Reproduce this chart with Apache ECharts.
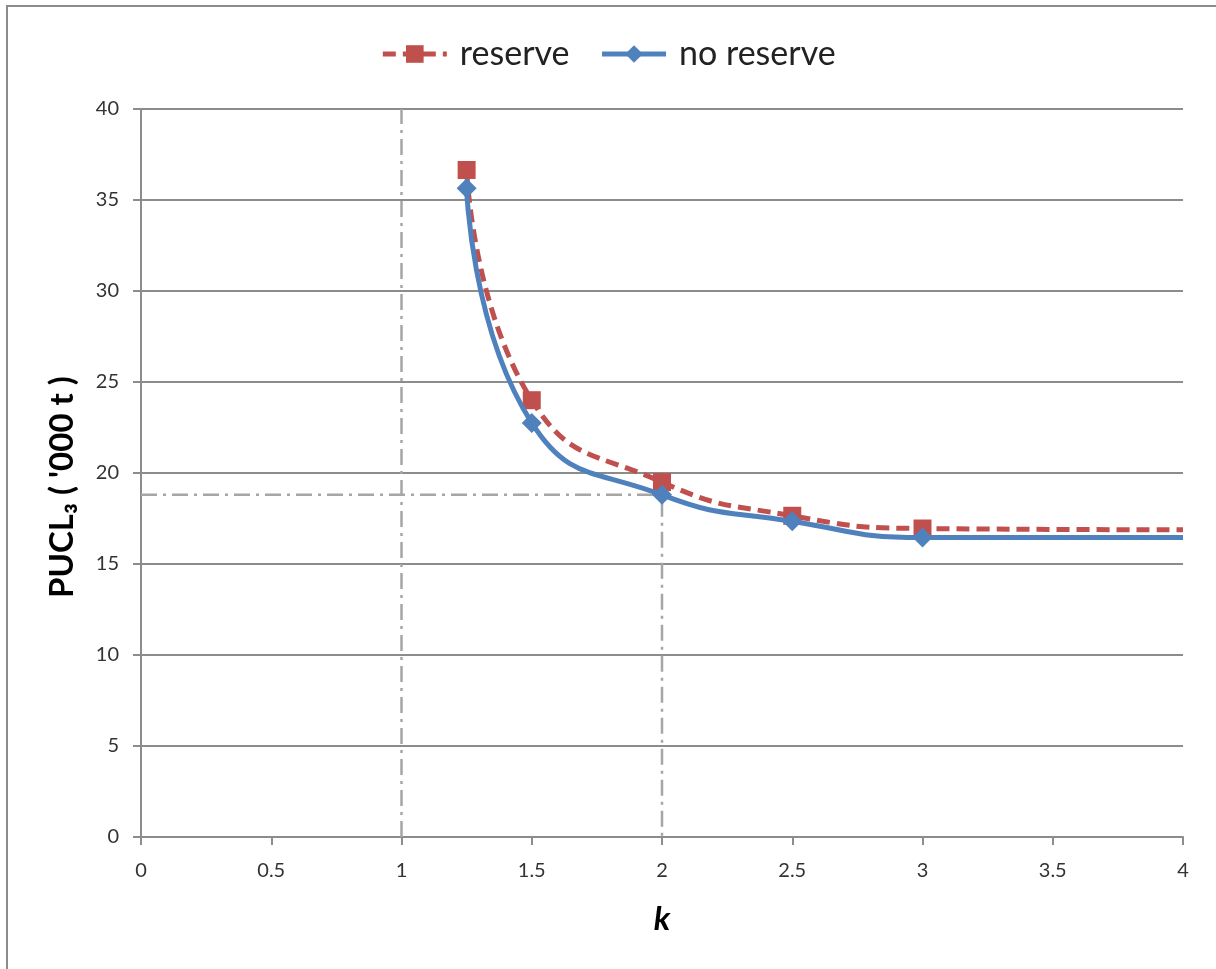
<!DOCTYPE html>
<html><head><meta charset="utf-8">
<script src="https://cdn.jsdelivr.net/npm/echarts@6/dist/echarts.min.js"></script>
<style>html,body{margin:0;padding:0;background:#fff}#c{width:1216px;height:969px}</style>
</head><body><div id="c"></div>
<script>
const kValues = [1.25, 1.5, 2, 2.5, 3];
const reserve = [36.65, 24.0, 19.5, 17.65, 16.95];
const noReserve = [35.65, 22.75, 18.8, 17.35, 16.45];
const tailK = 4;
const reserveTail = 16.88;
const noReserveTail = 16.45;
const guideVertical1 = [[1, 0], [1, 40]];
const guideTarget = [[0, 18.8], [2, 18.8], [2, 0]];
const xTicks = [0, 0.5, 1, 1.5, 2, 2.5, 3, 3.5, 4];
const yTicks = [0, 5, 10, 15, 20, 25, 30, 35, 40];

function pts(xs, ys, tailY) {
  const d = xs.map((x, i) => ({value: [x, ys[i]]}));
  d.push({value: [tailK, tailY], symbol: 'none'});
  return d;
}
const FONT = 'Lato, "Liberation Sans", sans-serif';
const guideStyle = {color: '#a6a6a6', width: 2.5, type: [16, 6, 3, 6]};
const chart = echarts.init(document.getElementById('c'));
chart.setOption({
  animation: false,
  textStyle: {fontFamily: FONT},
  graphic: [{type: 'rect', shape: {x: 7, y: 6, width: 1400, height: 1100}, style: {fill: 'none', stroke: '#8c8c8c', lineWidth: 2}, silent: true}],
  legend: {
    top: 32, left: 'center', itemWidth: 64, itemHeight: 22, itemGap: 30,
    lineStyle: {width: 5},
    textStyle: {fontSize: 34, color: '#222', fontFamily: FONT, padding: [0, 0, 0, 8]},
    data: ['reserve', 'no reserve']
  },
  grid: {left: 141, right: 33, top: 109, bottom: 132},
  xAxis: {
    type: 'value', min: 0, max: 4, interval: 0.5,
    name: 'k', nameLocation: 'middle', nameGap: 66,
    nameTextStyle: {fontSize: 33, fontWeight: 'bold', fontStyle: 'italic', color: '#000', fontFamily: FONT},
    axisLine: {lineStyle: {color: '#8c8c8c', width: 2}},
    axisTick: {show: true, length: 8, lineStyle: {color: '#8c8c8c', width: 2}},
    axisLabel: {fontSize: 20, color: '#333', margin: 24, formatter: v => xTicks.includes(v) ? String(v) : ''},
    splitLine: {show: false}
  },
  yAxis: {
    type: 'value', min: 0, max: 40, interval: 5,
    name: "PUCL₃ ( '000 t )", nameLocation: 'middle', nameGap: 62, nameRotate: 90,
    nameTextStyle: {fontSize: 33, fontWeight: 'bold', color: '#000', fontFamily: FONT, padding: [0, 28, 0, 0]},
    axisLine: {show: true, lineStyle: {color: '#8c8c8c', width: 2}},
    axisTick: {show: true, length: 8, lineStyle: {color: '#8c8c8c', width: 2}},
    axisLabel: {fontSize: 20, color: '#333', margin: 22, formatter: v => yTicks.includes(v) ? String(v) : ''},
    splitLine: {lineStyle: {color: '#8c8c8c', width: 2}}
  },
  series: [
    {name: 'guide1', type: 'line', data: guideVertical1, symbol: 'none', lineStyle: guideStyle, z: 1, silent: true},
    {name: 'guide2', type: 'line', data: guideTarget, symbol: 'none', lineStyle: guideStyle, z: 1, silent: true},
    {name: 'reserve', type: 'line', data: pts(kValues, reserve, reserveTail), smooth: 0.5,
     symbol: 'rect', symbolSize: 18, itemStyle: {color: '#c0504d'},
     lineStyle: {color: '#c0504d', width: 5, type: [13, 7]}, z: 3},
    {name: 'no reserve', type: 'line', data: pts(kValues, noReserve, noReserveTail), smooth: 0.5,
     symbol: 'diamond', symbolSize: 20, itemStyle: {color: '#4f81bd'},
     lineStyle: {color: '#4f81bd', width: 5}, z: 4}
  ]
});
</script></body></html>
